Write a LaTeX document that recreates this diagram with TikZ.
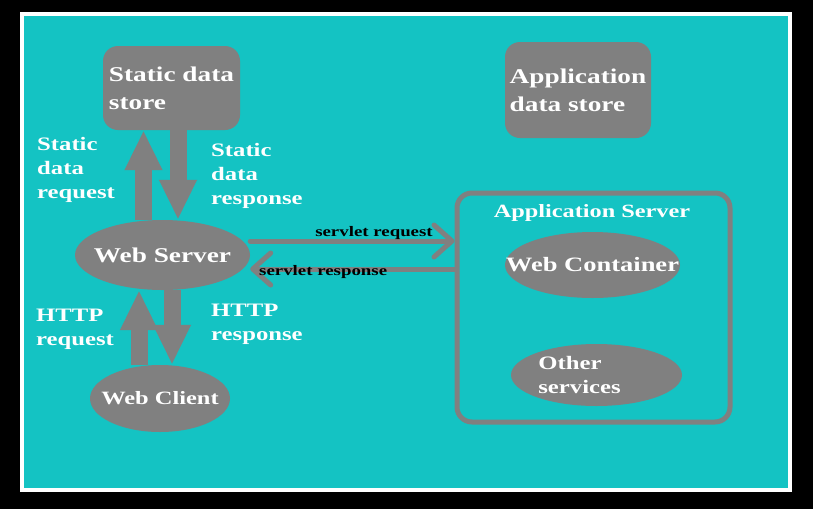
\documentclass[tikz,border=0pt]{standalone}
\usepackage{fontspec}
\setmainfont{Liberation Serif}[FakeStretch=1.3]
\usetikzlibrary{arrows.meta, shapes.geometric}
\definecolor{bgTeal}{HTML}{14C3C3}
\definecolor{boxGray}{HTML}{808080}

\begin{document}
\begin{tikzpicture}[
    x=1pt, y=-1pt,
    font=\bfseries,
    storenode/.style={fill=boxGray, rounded corners=15pt, inner sep=0pt, text=white, align=left,
        font=\bfseries\fontsize{21}{28}\selectfont},
    ellnode/.style={ellipse, fill=boxGray, inner xsep=-30pt, inner ysep=-8pt, text=white},
    lblnode/.style={text=white, align=left, inner sep=0pt, font=\bfseries\fontsize{19}{24}\selectfont},
    servletlbl/.style={text=black, inner sep=0pt, font=\bfseries\fontsize{14.5}{17}\selectfont},
    bigarrow/.style={boxGray, line width=17pt, -{Triangle[length=40pt, width=35pt]}},
    thinarrow/.style={boxGray, line width=5pt, line cap=round, -{Straight Barb[length=18pt, width=32pt, round]}}
]

% --- 1. BACKGROUND AND FRAME ---
\useasboundingbox (0,0) rectangle (813,509);
\fill[black] (0,0) rectangle (813,509);
\fill[white] (20,12) rectangle (792,492);
\fill[bgTeal] (24,16) rectangle (788,488);

% --- 2. DATA STORES ---
\node[storenode, minimum width=137pt, minimum height=84pt] (sds) at (171.5, 88) {Static data\\store};
\node[storenode, minimum width=146pt, minimum height=96pt] (ads) at (578, 90) {Application\\data store};

% --- 3. WEB SERVER AND CLIENT ---
\node[ellnode, minimum width=175pt, minimum height=70pt, font=\bfseries\fontsize{21}{25}\selectfont] (ws) at (162.5, 255) {Web Server};
\node[ellnode, minimum width=140pt, minimum height=67pt, font=\bfseries\fontsize{18.8}{22}\selectfont] (wc) at (160, 398.5) {Web Client};

% --- 4. APPLICATION SERVER ---
\node[draw=boxGray, line width=5pt, rounded corners=15pt, minimum width=273pt, minimum height=229pt] (as) at (593.5, 307.5) {};
\node[lblnode, font=\bfseries\fontsize{18.7}{22}\selectfont] (astitle) at (592, 213) {Application Server};
\node[ellnode, minimum width=175pt, minimum height=66pt, font=\bfseries\fontsize{20.4}{24}\selectfont] (wcn) at (592.5, 265) {Web Container};
\node[ellnode, minimum width=171pt, minimum height=62pt] (os) at (596.5, 375) {};
\node[lblnode] (oslbl) at ([xshift=-17pt]os.center) {Other\\services};

% --- 5. THICK ARROWS ---
\draw[bigarrow] ([xshift=-19pt]ws.north) -- ([xshift=-28pt]sds.south);
\draw[bigarrow] ([xshift=6.5pt]sds.south) -- ([xshift=15.5pt]ws.north);
\draw[bigarrow] ([xshift=-21pt]wc.north) -- ([xshift=-23.5pt]ws.south);
\draw[bigarrow] ([xshift=9.5pt]ws.south) -- ([xshift=12pt]wc.north);

\node[lblnode, anchor=west] (sreq) at (37, 170) {Static\\data\\request};
\node[lblnode, anchor=west] (sresp) at (211, 176) {Static\\data\\response};
\node[lblnode, anchor=west] (hreq) at (36, 329) {HTTP\\request};
\node[lblnode, anchor=west] (hresp) at (211, 324) {HTTP\\response};

% --- 6. SERVLET ARROWS ---
\draw[thinarrow] ([yshift=14pt]ws.east) -- ([yshift=14pt]ws.east -| as.west);
\draw[thinarrow] ([yshift=-14pt]ws.east -| as.west) -- ([yshift=-14pt]ws.east);

\node[servletlbl] (slreq) at (374, 233) {servlet request};
\node[servletlbl, anchor=west] (slresp) at (259, 272) {servlet response};

\end{tikzpicture}
\end{document}
